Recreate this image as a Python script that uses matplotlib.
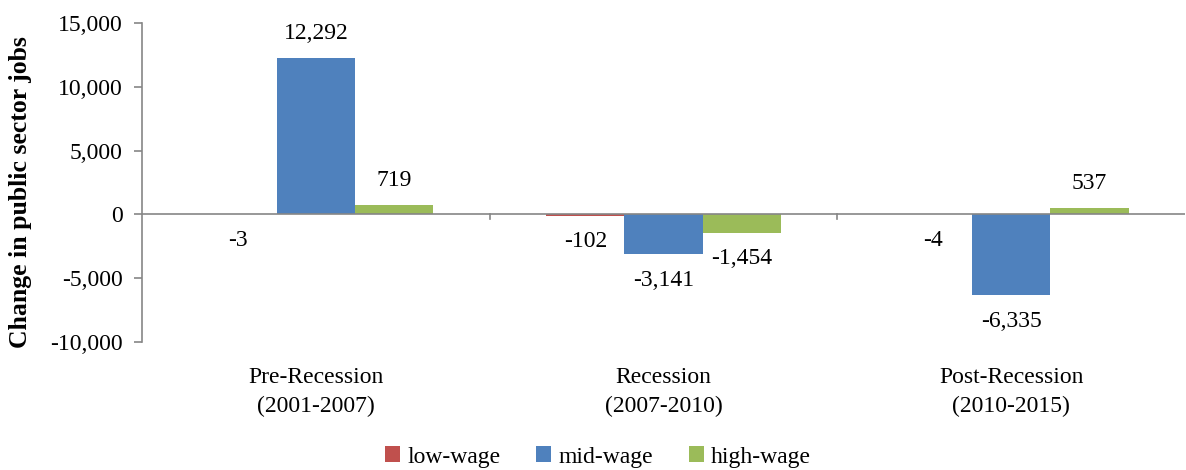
import matplotlib
matplotlib.use("Agg")
import matplotlib.pyplot as plt
import numpy as np

categories = ["Pre-Recession\n(2001-2007)", "Recession\n(2007-2010)", "Post-Recession\n(2010-2015)"]
series_names = ["low-wage", "mid-wage", "high-wage"]
low_wage = [-3, -102, -4]
mid_wage = [12292, -3141, -6335]
high_wage = [719, -1454, 537]
colors = ["#C0504D", "#4F81BD", "#9BBB59"]
yticks = [-10000, -5000, 0, 5000, 10000, 15000]

plt.rcParams['font.family'] = ['Liberation Serif', 'DejaVu Serif']

fig = plt.figure(figsize=(11.86, 4.70), dpi=100)
ax = fig.add_axes([142/1186, 1-342/470, (1185-142)/1186, (342-23)/470])

x = np.arange(len(categories))
w = 0.225
series = [low_wage, mid_wage, high_wage]
fs = 17
for i, (vals, c, name) in enumerate(zip(series, colors, series_names)):
    pos = x + (i - 1) * w
    ax.bar(pos, vals, width=w, color=c, label=name, zorder=2)
    for p, v in zip(pos, vals):
        txt = f"{v:,}"
        if v >= 0:
            ax.annotate(txt, (p, v), xytext=(0, 10), textcoords="offset points",
                        ha="center", va="bottom", fontsize=fs)
        else:
            ax.annotate(txt, (p, v), xytext=(0, -11), textcoords="offset points",
                        ha="center", va="top", fontsize=fs)

ax.set_xlim(-0.5, 2.5)
ax.set_ylim(-10000, 15000)
ax.set_yticks(yticks)
ax.set_yticklabels([f"{t:,}" for t in yticks], fontsize=fs)
ax.set_xticks([])

axis_color = "#868686"
for s in ["top", "right", "bottom"]:
    ax.spines[s].set_visible(False)
ax.spines["left"].set_color(axis_color)
ax.spines["left"].set_linewidth(1.2)
ax.tick_params(axis="y", direction="out", length=6, color=axis_color, width=1.2, pad=8)
ax.axhline(0, color=axis_color, linewidth=1.2, zorder=3)
for b in [0.5, 1.5]:
    ax.plot([b, b], [0, -350], color=axis_color, linewidth=1.2, zorder=3, clip_on=False)

for xi, lab in zip(x, categories):
    ax.text(xi, -11950, lab, ha="center", va="top", fontsize=fs, linespacing=1.5,
            transform=ax.transData)

ax.set_ylabel("Change in public sector jobs", fontsize=18.5, fontweight="bold")
ax.yaxis.set_label_coords(-110/1043, 0.47)

leg = fig.legend(loc="center", bbox_to_anchor=(598/1186, 1-457/470), ncol=3, frameon=False,
                 fontsize=fs, handlelength=0.65, handleheight=0.65, handletextpad=0.3,
                 columnspacing=1.5)

fig.savefig("out.png", dpi=100)
